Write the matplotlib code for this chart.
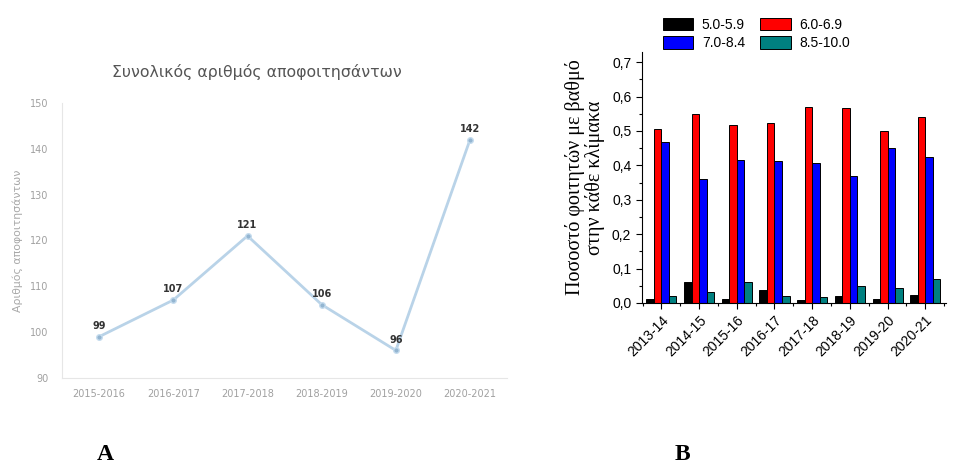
import matplotlib.pyplot as plt
import numpy as np
from matplotlib.ticker import MultipleLocator, FuncFormatter

# A: total graduates
years_a = ['2015-2016', '2016-2017', '2017-2018', '2018-2019', '2019-2020', '2020-2021']
graduates = [99, 107, 121, 106, 96, 142]

# B: share of students per grade band
years_b = ['2013-14', '2014-15', '2015-16', '2016-17', '2017-18', '2018-19', '2019-20', '2020-21']
bands = ['5.0-5.9', '6.0-6.9', '7.0-8.4', '8.5-10.0']
g5 = [0.012, 0.062, 0.012, 0.038, 0.009, 0.021, 0.012, 0.024]
g6 = [0.506, 0.550, 0.516, 0.524, 0.571, 0.566, 0.501, 0.542]
g7 = [0.467, 0.361, 0.415, 0.412, 0.407, 0.370, 0.449, 0.425]
g8 = [0.021, 0.031, 0.061, 0.019, 0.017, 0.049, 0.043, 0.070]
band_colors = ['#000000', '#ff0000', '#0000ff', '#008080']

fig = plt.figure(figsize=(9.55, 4.66), dpi=100)

# ---- left chart
ax1 = fig.add_axes([0.065, 0.189, 0.466, 0.590])
x = np.arange(len(years_a))
ax1.plot(x, graduates, color='#b9d3e8', lw=2, marker='o', ms=4,
         mfc='#93b5d1', mec='#c5dcee', zorder=3)
for xi, v in zip(x, graduates):
    ax1.annotate(str(v), (xi, v), xytext=(0, 4), textcoords='offset points',
                 ha='center', va='bottom', fontsize=7, fontweight='bold', color='#333333')
ax1.set_xlim(-0.5, 5.5)
ax1.set_ylim(90, 150)
ax1.set_xticks(x)
ax1.set_xticklabels(years_a)
ax1.set_yticks(range(90, 151, 10))
ax1.tick_params(length=0, labelsize=7, labelcolor='#a0a0a0')
ax1.tick_params(axis='x', pad=8)
ax1.tick_params(axis='y', pad=10)
for s in ['top', 'right']:
    ax1.spines[s].set_visible(False)
for s in ['left', 'bottom']:
    ax1.spines[s].set_color('#e6e6e6')
ax1.set_ylabel('Αριθμός αποφοιτησάντων', fontsize=7.8, color='#a8a8a8', labelpad=5)
fig.text(257 / 955, 1 - 72 / 466, 'Συνολικός αριθμός αποφοιτησάντων', fontsize=11.3,
         color='#555555', ha='center', va='center')

# ---- right chart
ax2 = fig.add_axes([0.672, 0.350, 0.319, 0.538])
xb = np.arange(len(years_b))
w = 0.2
bars = []
for i, (vals, c) in enumerate(zip([g5, g6, g7, g8], band_colors)):
    b = ax2.bar(xb + (i - 1.5) * w, vals, w, color=c, edgecolor='black', lw=0.7, label=bands[i])
    bars.append(b)
ax2.set_xlim(-0.52, 7.56)
ax2.set_ylim(0, 0.729)
ax2.set_xticks(xb)
ax2.set_xticklabels(years_b, rotation=45, ha='right', rotation_mode='anchor', fontsize=10,
                    family='Liberation Sans')
ax2.xaxis.set_minor_locator(MultipleLocator(1, offset=0.5))
ax2.yaxis.set_major_locator(MultipleLocator(0.1))
ax2.yaxis.set_minor_locator(MultipleLocator(0.05))
ax2.yaxis.set_major_formatter(FuncFormatter(lambda v, p: f'{v:.1f}'.replace('.', ',')))
for lab in ax2.get_yticklabels():
    lab.set_family('Liberation Sans')
ax2.tick_params(axis='y', labelsize=10)
ax2.tick_params(which='major', length=4, width=0.8, direction='out')
ax2.tick_params(which='minor', length=2.5, width=0.8, direction='out')
for s in ['top', 'right']:
    ax2.spines[s].set_visible(False)
ax2.set_ylabel('Ποσοστό φοιτητών με βαθμό\nστην κάθε κλίμακα', fontsize=14.5,
               family='Liberation Serif', linespacing=1.0, labelpad=5)

handles = [bars[0], bars[2], bars[1], bars[3]]
labels = [bands[0], bands[2], bands[1], bands[3]]
fig.legend(handles, labels, ncol=2, loc='center', bbox_to_anchor=(0.792, 0.927),
           frameon=False, prop={'family': 'Liberation Sans', 'size': 10},
           handlelength=2.2, handleheight=1.0, handletextpad=0.6, columnspacing=1.1,
           labelspacing=0.3, borderaxespad=0)

fig.text(105 / 955, 1 - 455 / 466, 'A', fontsize=17, fontweight='bold',
         family='Liberation Serif', ha='center', va='center')
fig.text(682 / 955, 1 - 455 / 466, 'B', fontsize=17, fontweight='bold',
         family='Liberation Serif', ha='center', va='center')

fig.savefig('out.png', dpi=100)
